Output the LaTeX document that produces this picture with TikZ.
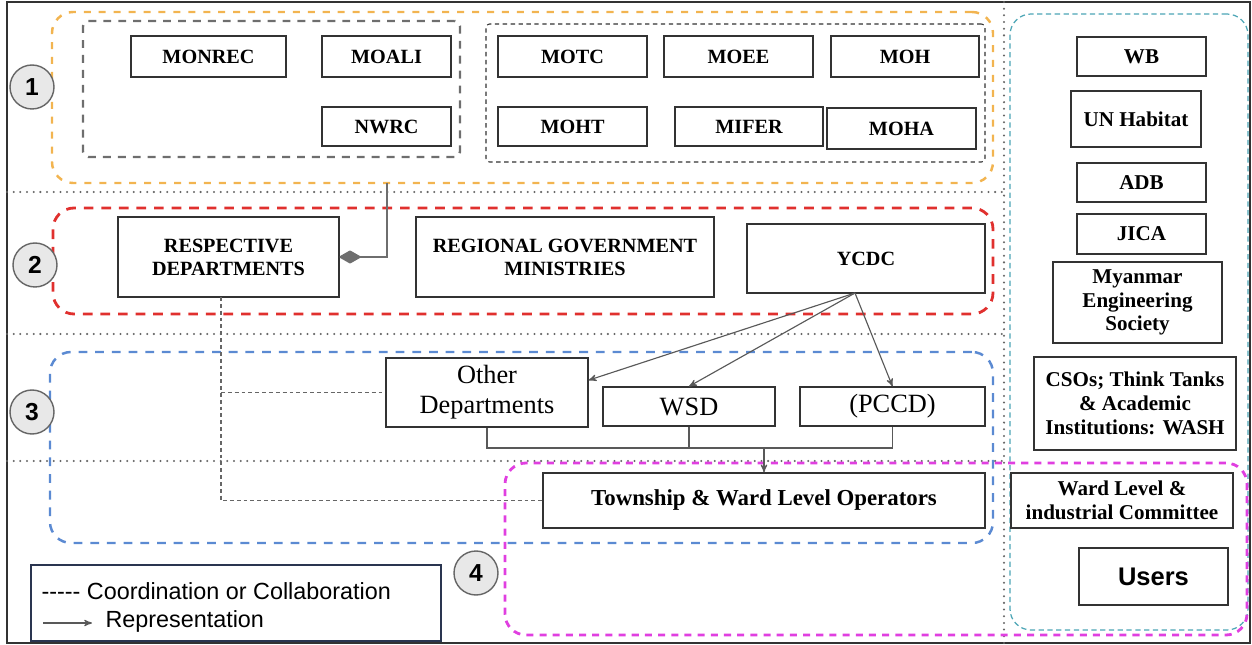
\documentclass[tikz,border=0pt]{standalone}
\usepackage{fontspec}
\setmainfont{Liberation Serif}
\setsansfont{Liberation Sans}
\usepackage{tikz}
\usetikzlibrary{arrows,fit}

\definecolor{grporange}{HTML}{F2B450}
\definecolor{grpred}{HTML}{E0302E}
\definecolor{grpblue}{HTML}{5B8AD2}
\definecolor{grpmagenta}{HTML}{E03FE0}
\definecolor{grpteal}{HTML}{4BA5B5}
\definecolor{grpgray}{HTML}{6E6E6E}
\definecolor{legnavy}{HTML}{2A3550}

\begin{document}
\begin{tikzpicture}[x=0.02cm,y=-0.02cm,>=stealth',semithick]
  \tikzstyle{box}=[draw=black!80,fill=white,line width=0.7pt,inner sep=0pt,align=center,
                   font=\fontsize{11.5}{13}\selectfont\bfseries]
  \tikzstyle{plainbox}=[box,font=\fontsize{15}{17}\selectfont]
  \tikzstyle{sidebox}=[box,font=\fontsize{12}{13.5}\selectfont\bfseries]
  \tikzstyle{grp}=[inner sep=0pt,rounded corners=12pt,line width=1.4pt]
  \tikzstyle{num}=[circle,draw=black!60,fill=black!9,line width=0.8pt,minimum size=0.88cm,
                   inner sep=0pt,font=\sffamily\bfseries\fontsize{14}{14}\selectfont]
  \tikzstyle{sep}=[black!60,line width=1.3pt,line cap=round,dash pattern=on 0pt off 3.8pt]
  \tikzstyle{coord}=[black!60,line width=0.6pt,dash pattern=on 2.2pt off 1.7pt]
  \tikzstyle{link}=[black!65,line width=0.65pt]
  \tikzstyle{rep}=[link,->]
  \tikzstyle{legtext}=[inner sep=0pt,font=\sffamily\fontsize{13.3}{15}\selectfont]

\useasboundingbox (0,0) rectangle (1252,645);
\draw[black!80,line width=0.6pt] (7,2) rectangle (1250,643);

% level separators
\draw[sep] (7,192) -- (1004,192);
\draw[sep] (7,334) -- (1004,334);
\draw[sep] (7,461) -- (1004,461);
\draw[sep] (1004,2) -- (1004,643);

% groups
\node[grp,draw=grporange,dash pattern=on 4pt off 4.5pt,fit={(52,12)(993,183)}] (g1) {};
\node[grp,draw=grpgray,rounded corners=3pt,dash pattern=on 4.5pt off 4pt,fit={(83,21)(460,157)}] (g1a) {};
\node[grp,draw=black!80,line width=0.6pt,rounded corners=2pt,dash pattern=on 2.5pt off 2pt,
      fit={(486,24)(985,162)}] (g1b) {};
\node[grp,draw=grpred,line width=1.6pt,dash pattern=on 5.5pt off 4.5pt,fit={(53,208)(993,314)}] (g2) {};
\node[grp,draw=grpblue,dash pattern=on 5pt off 4.5pt,fit={(50,352)(993,543)}] (g3) {};
\node[grp,draw=grpteal,line width=0.7pt,dash pattern=on 3pt off 2pt,fit={(1010,14)(1248,630)}] (g5) {};
\node[grp,draw=grpmagenta,line width=1.6pt,dash pattern=on 4pt off 3.5pt,fit={(505,463)(1247,635)}] (g4) {};

% level 1
\node[box,minimum width=3.1cm,minimum height=0.82cm] (monrec) at (208.5,56.5) {MONREC};
\node[box,minimum width=2.58cm,minimum height=0.82cm] (moali) at (386.5,56.5) {MOALI};
\node[box,minimum width=2.58cm,minimum height=0.78cm] (nwrc) at (386.5,126.5) {NWRC};
\node[box,minimum width=2.98cm,minimum height=0.82cm] (motc) at (572.5,56.5) {MOTC};
\node[box,minimum width=2.98cm,minimum height=0.82cm] (moee) at (738.5,56.5) {MOEE};
\node[box,minimum width=2.96cm,minimum height=0.82cm] (moh) at (905,56.5) {MOH};
\node[box,minimum width=2.98cm,minimum height=0.78cm] (moht) at (572.5,126.5) {MOHT};
\node[box,minimum width=2.96cm,minimum height=0.78cm] (mifer) at (749,126.5) {MIFER};
\node[box,minimum width=2.98cm,minimum height=0.82cm] (moha) at (901.5,128.5) {MOHA};

% level 2
\node[box,minimum width=4.42cm,minimum height=1.6cm] (resp) at (228.5,257) {RESPECTIVE\\DEPARTMENTS};
\node[box,minimum width=5.96cm,minimum height=1.6cm] (rgm) at (565,257) {REGIONAL GOVERNMENT\\MINISTRIES};
\node[box,minimum width=4.76cm,minimum height=1.38cm] (ycdc) at (866,258.5) {YCDC};

% level 3 and 4
\node[plainbox,minimum width=4.04cm,minimum height=1.38cm] (other) at (487,392.5) {Other\\Departments};
\node[plainbox,minimum width=3.44cm,minimum height=0.78cm] (wsd) at (689,406.5) {WSD};
\node[plainbox,minimum width=3.7cm,minimum height=0.78cm] (pccd) at (892.5,406.5) {(PCCD)};
\node[box,font=\fontsize{13}{15}\selectfont\bfseries,minimum width=8.84cm,minimum height=1.1cm] (town)
     at (764,500.5) {Township \& Ward Level Operators};

% right column
\node[sidebox,minimum width=2.58cm,minimum height=0.78cm] (wb) at (1141.5,56.5) {WB};
\node[sidebox,minimum width=2.6cm,minimum height=1.12cm] (unh) at (1136,119) {UN Habitat};
\node[sidebox,minimum width=2.58cm,minimum height=0.78cm] (adb) at (1141.5,182.5) {ADB};
\node[sidebox,minimum width=2.58cm,minimum height=0.8cm] (jica) at (1141.5,234) {JICA};
\node[sidebox,minimum width=3.38cm,minimum height=1.62cm] (mes) at (1137.5,302.5) {Myanmar\\Engineering\\Society};
\node[sidebox,minimum width=4.04cm,minimum height=1.86cm] (cso) at (1135,403.5)
     {CSOs; Think Tanks\\\& Academic\\Institutions: WASH};
\node[sidebox,minimum width=4.44cm,minimum height=1.1cm] (ward) at (1122,500.5) {Ward Level \&\\industrial Committee};
\node[sidebox,font=\sffamily\bfseries\fontsize{14.5}{16}\selectfont,minimum width=2.98cm,minimum height=1.14cm]
     (users) at (1153.5,576.5) {Users};

% level numbers
\node[num] (n1) at (32,87) {1};
\node[num] (n2) at (35,265) {2};
\node[num] (n3) at (32,412) {3};
\node[num] (n4) at (476,573) {4};

% legend
\node[draw=legnavy,line width=0.8pt,inner sep=0pt,fit={(31,565)(441,641)}] (leg) {};
\node[legtext,anchor=west] (lgc) at (41,591) {-{}-{}-{}-{}- Coordination or Collaboration};
\coordinate (la) at (43,623);
\coordinate (lb) at (92,623);
\draw[rep] (la) -- (lb);
\node[legtext,anchor=west] (lgr) at (105,621) {Representation};

% connectors
\coordinate (tap) at (387,183);
\draw[grpgray,line width=1.3pt,-diamond] (tap) |- (resp.east);

\coordinate (ca) at (221,297);
\draw[coord] (ca) |- (town.west);
\draw[coord] (ca |- other.west) -- (other.west);

\coordinate (yc) at (855,293);
\path (yc) edge[rep] ([yshift=7pt]other.east)
           edge[rep] (wsd.north)
           edge[rep] (pccd.north);

\coordinate (jn) at (764,448);
\draw[link] (other.south) |- (jn) -| (pccd.south);
\draw[link] (wsd.south) -- (wsd.south |- jn);
\draw[rep] (jn) -- (town.north);

\end{tikzpicture}
\end{document}
